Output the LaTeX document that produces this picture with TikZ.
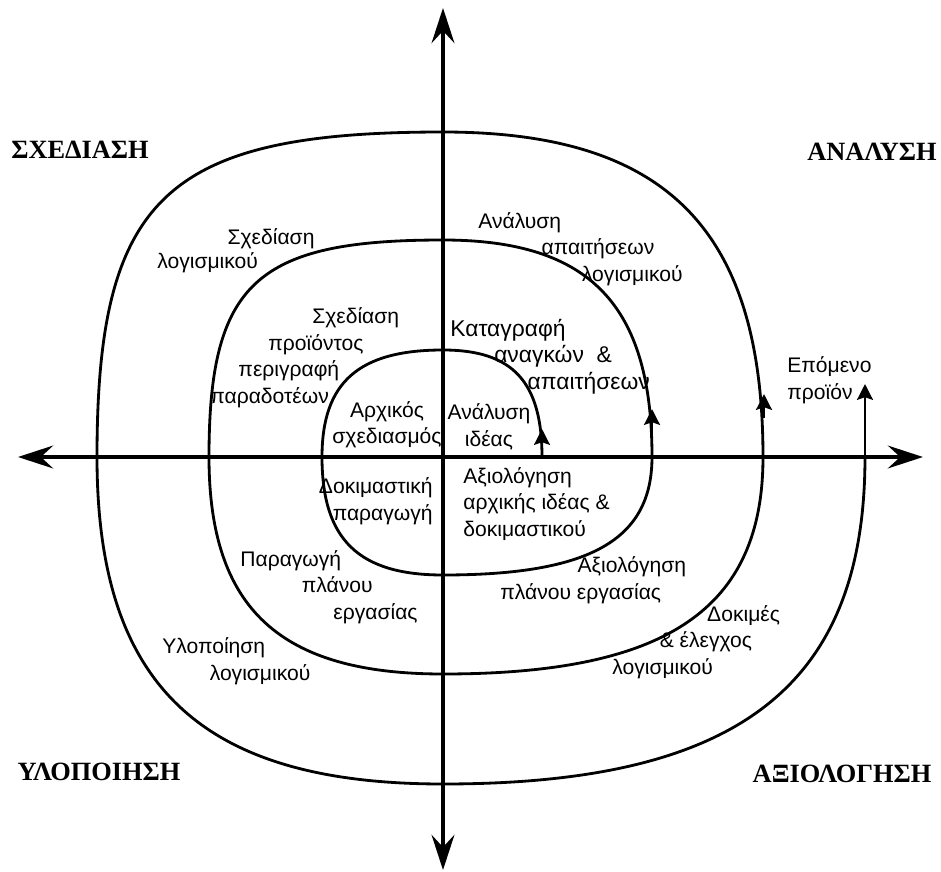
\documentclass[tikz,border=0pt]{standalone}
\usepackage{fontspec}
\setmainfont{Liberation Sans}
\newfontfamily\phasefont{Liberation Serif}
\usetikzlibrary{arrows.meta}

\tikzset{
	axis/.style={line width=2pt,
		{Stealth[length=20pt,width=13pt,inset=7pt]}-{Stealth[length=20pt,width=13pt,inset=7pt]}},
	spiral/.style={line width=1.6pt},
	spiralarrow/.style={line width=1.6pt,-{Stealth[length=9pt,width=9pt,inset=1.5pt]}},
	phase/.style={font=\phasefont\bfseries\fontsize{15}{17}\selectfont,inner sep=0pt},
	activity/.style={font=\fontsize{12}{15}\selectfont,inner sep=0pt,align=left,anchor=base west},
}

\begin{document}
\begin{tikzpicture}[x=0.02cm,y=-0.02cm]
	\useasboundingbox (0,0) rectangle (941,872);

	%axes
	\draw[axis] (18,457) -- (923,457);
	\draw[axis] (443,8) -- (443,870);

	%spiral
	\draw[spiral] (542,457)
		.. controls (542,382) and (513,350) .. (443,350)
		.. controls (359,350) and (322,382) .. (322,457)
		.. controls (322,540) and (359,575) .. (443,575)
		.. controls (590,575) and (652,540) .. (652,457)
		.. controls (652,305) and (590,240) .. (443,240)
		.. controls (256,240) and (209,283) .. (209,457)
		.. controls (209,609) and (280,674) .. (443,674)
		.. controls (667,674) and (763,609) .. (763,457)
		.. controls (763,230) and (667,132) .. (443,132)
		.. controls (166,132) and (97,197) .. (97,457)
		.. controls (97,686) and (201,784) .. (443,784)
		.. controls (739,784) and (865,686) .. (865,457);
	\draw[spiralarrow] (865,457) -- (865,384);

	%arrows on the loops
	\draw[spiralarrow] (542,452) -- (542,429);
	\draw[spiralarrow] (652,432) -- (652,409);
	\draw[spiralarrow] (764,418) -- (764,394);

	%phases
	\node[phase] (sxed) at (80,150) {ΣΧΕΔΙΑΣΗ};
	\node[phase] (anal) at (872,152) {ΑΝΑΛΥΣΗ};
	\node[phase] (ylop) at (99,772) {ΥΛΟΠΟΙΗΣΗ};
	\node[phase] (axiol) at (842,774) {ΑΞΙΟΛΟΓΗΣΗ};

	%activities (anchored at the baseline of their last line)
	\node[activity,font=\fontsize{12}{13.5}\selectfont] (sxlog) at (157,268) {\hspace*{40pt}Σχεδίαση\\λογισμικού};
	\node[activity] (sxpro) at (210,403) {\hspace*{58pt}Σχεδίαση\\\hspace*{33pt}προϊόντος\\\hspace*{16pt}περιγραφή\\παραδοτέων};
	\node[activity,align=center,anchor=center] (arxsx) at (387,425) {Αρχικός\\σχεδιασμός};
	\node[activity,align=center,anchor=center] (anid) at (489,427) {Ανάλυση\\ιδέας};
	\node[activity,font=\fontsize{13}{15}\selectfont] (katag) at (450,389) {Καταγραφή\\\hspace*{25pt}αναγκών\ \ \&\\\hspace*{44pt}απαιτήσεων};
	\node[activity] (anap) at (478,281) {Ανάλυση\\\hspace*{36pt}απαιτήσεων\\\hspace*{59pt}λογισμικού};
	\node[activity] (epom) at (787,399) {Επόμενο\\προϊόν};
	\node[activity,align=right,anchor=base east] (dokpar) at (433,520) {Δοκιμαστική\\παραγωγή};
	\node[activity] (parpl) at (240,619) {Παραγωγή\\\hspace*{35pt}πλάνου\\\hspace*{53pt}εργασίας};
	\node[activity] (ylog) at (162,680) {Υλοποίηση\\\hspace*{27pt}λογισμικού};
	\node[activity] (axarx) at (463,536) {Αξιολόγηση\\αρχικής ιδέας \&\\δοκιμαστικού};
	\node[activity] (axpl) at (500,599) {\hspace*{44pt}Αξιολόγηση\\πλάνου εργασίας};
	\node[activity] (dokel) at (612,674) {\hspace*{54pt}Δοκιμές\\\hspace*{27pt}\& έλεγχος\\λογισμικού};
\end{tikzpicture}
\end{document}
